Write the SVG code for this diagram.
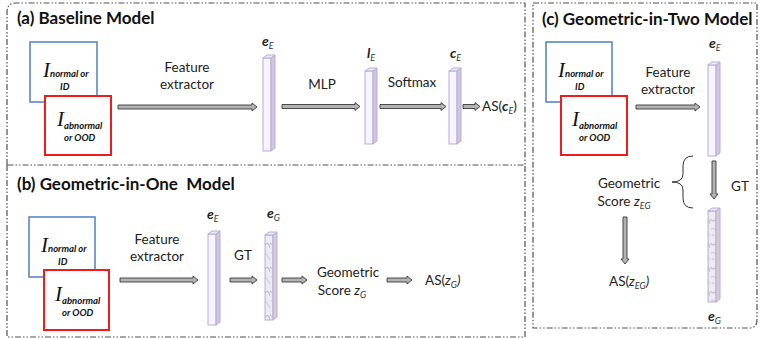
<svg xmlns="http://www.w3.org/2000/svg" width="763" height="338" viewBox="0 0 763 338">
<defs>
<style>
.frame{fill:none;stroke:#505050;stroke-width:1.2;stroke-dasharray:6 2 1.5 2 1.5 2}
.title{font-family:Lato,"Liberation Sans",sans-serif;font-weight:bold;font-size:17px;fill:#111}
.t{font-family:Lato,"Liberation Sans",sans-serif;font-size:13.5px;fill:#222}
.ti{font-style:italic}
.lab{font-family:Lato,"Liberation Sans",sans-serif;font-size:14px;font-weight:bold;font-style:italic;fill:#222}
.sub{font-family:Lato,"Liberation Sans",sans-serif;font-size:9px;font-style:italic;font-weight:normal;fill:#333}
.I{font-family:"Liberation Serif",serif;font-style:italic;font-size:21px;fill:#111}
.Isub{font-family:Lato,"Liberation Sans",sans-serif;font-style:italic;font-weight:bold;font-size:9.5px;fill:#111}
.blue{fill:#fff;stroke:#5a87c6;stroke-width:1.6}
.red{fill:#fff;stroke:#ee1c1c;stroke-width:2}
.arr{fill:#b3b3b3;stroke:#3a3a3a;stroke-width:0.9;stroke-linejoin:miter}
.front{fill:#f7f5fb;stroke:#b9acd8;stroke-width:1}
.side{fill:#cfc7e0;stroke:#b9acd8;stroke-width:1}
.top{fill:#ece8f4;stroke:#b9acd8;stroke-width:1}
.mfront{fill:url(#marble);stroke:#b9acd8;stroke-width:1}
.brace{fill:none;stroke:#333;stroke-width:1}
</style>
<pattern id="marble" patternUnits="userSpaceOnUse" width="10" height="24">
<rect width="10" height="24" fill="#ecebef"/>
<path d="M0 3 Q3 6 6 4 T10 8" stroke="#c3c1c8" stroke-width="1.2" fill="none"/>
<path d="M1 13 Q4 11 7 15 T9 20" stroke="#cfcdd4" stroke-width="1.2" fill="none"/>
<circle cx="3" cy="19" r="1.1" fill="#d3d1d8"/>
</pattern>
</defs>

<g id="frames">
<path class="frame" d="M7 165 V12 Q7 3 16 3 H525 V165 Z"/>
<path class="frame" d="M7 165 V337 H525 V165"/>
<path class="frame" d="M533 3 H757 V320 Q757 328 749 328 H533 Z"/>
</g>

<g id="titles">
<text class="title" x="17" y="24">(a) Baseline Model</text>
<text class="title" x="17" y="190" xml:space="preserve">(b) Geometric-in-One  Model</text>
<text class="title" x="542" y="25">(c) Geometric-in-Two Model</text>
</g>

<!-- Panel a -->
<g id="a-input">
<rect class="blue" x="30" y="42" width="67" height="60"/>
<text class="I" x="43" y="77">I<tspan class="Isub" dy="0">normal or</tspan></text>
<text class="Isub" x="60" y="90">ID</text>
<rect class="red" x="45" y="96" width="66" height="59"/>
<text class="I" x="57" y="126">I<tspan class="Isub" dy="3">abnormal</tspan></text>
<text class="Isub" x="64" y="141">or OOD</text>
</g>
<g id="a-eE">
<rect class="front" x="263" y="58" width="8" height="93"/>
<polygon class="side" points="271,58 275,55 275,148 271,151"/>
<polygon class="top" points="263,58 267,55 275,55 271,58"/>
<text class="lab" x="262" y="46">e<tspan class="sub" dy="3">E</tspan></text>
</g>
<g id="a-lE">
<rect class="front" x="365" y="71" width="8" height="73"/>
<polygon class="side" points="373,71 377,68 377,141 373,144"/>
<polygon class="top" points="365,71 369,68 377,68 373,71"/>
<text class="lab" x="367" y="58">l<tspan class="sub" dy="3">E</tspan></text>
</g>
<g id="a-cE">
<rect class="front" x="449" y="71" width="8" height="73"/>
<polygon class="side" points="457,71 461,68 461,141 457,144"/>
<polygon class="top" points="449,71 453,68 461,68 457,71"/>
<text class="lab" x="450" y="58">c<tspan class="sub" dy="3">E</tspan></text>
</g>
<g id="a-out">
<text class="t" x="482" y="111">AS(<tspan class="lab" font-size="13">c</tspan><tspan class="sub" dy="3">E</tspan><tspan dy="-3">)</tspan></text>
</g>

<!-- Panel b -->
<g id="b-input">
<rect class="blue" x="29" y="217" width="66" height="60"/>
<text class="I" x="41" y="252">I<tspan class="Isub" dy="0">normal or</tspan></text>
<text class="Isub" x="58" y="265">ID</text>
<rect class="red" x="44" y="270" width="65" height="60"/>
<text class="I" x="55" y="301">I<tspan class="Isub" dy="3">abnormal</tspan></text>
<text class="Isub" x="62" y="316">or OOD</text>
</g>
<g id="b-eE">
<rect class="front" x="208" y="234" width="8" height="91"/>
<polygon class="side" points="216,234 220,231 220,322 216,325"/>
<polygon class="top" points="208,234 212,231 220,231 216,234"/>
<text class="lab" x="207" y="219">e<tspan class="sub" dy="3">E</tspan></text>
</g>
<g id="b-eG">
<rect class="mfront" x="265" y="235" width="8" height="85"/>
<polygon class="side" points="273,235 277,232 277,317 273,320" style="fill:#d2cddb"/>
<polygon class="top" points="265,235 269,232 277,232 273,235"/>
<text class="lab" x="267" y="218">e<tspan class="sub" dy="3">G</tspan></text>
</g>
<g id="b-score">
<text class="t" x="348" y="277" text-anchor="middle">Geometric</text>
<text class="t" x="342" y="295" text-anchor="middle">Score <tspan class="ti">z</tspan><tspan class="sub" dy="3">G</tspan></text>
</g>
<g id="b-out">
<text class="t" x="425" y="285">AS(<tspan class="ti">z</tspan><tspan class="sub" dy="3">G</tspan><tspan class="ti" dy="-3">)</tspan></text>
</g>

<!-- Panel c -->
<g id="c-input">
<rect class="blue" x="546" y="42" width="66" height="60"/>
<text class="I" x="558" y="77">I<tspan class="Isub" dy="0">normal or</tspan></text>
<text class="Isub" x="575" y="90">ID</text>
<rect class="red" x="561" y="96" width="66" height="59"/>
<text class="I" x="572" y="126">I<tspan class="Isub" dy="3">abnormal</tspan></text>
<text class="Isub" x="579" y="141">or OOD</text>
</g>
<g id="c-eE">
<rect class="front" x="708" y="65" width="8" height="91"/>
<polygon class="side" points="716,65 720,62 720,153 716,156"/>
<polygon class="top" points="708,65 712,62 720,62 716,65"/>
<text class="lab" x="709" y="48">e<tspan class="sub" dy="3">E</tspan></text>
</g>
<g id="c-eG">
<rect class="mfront" x="708" y="211" width="8" height="91"/>
<polygon class="side" points="716,211 720,208 720,299 716,302" style="fill:#d2cddb"/>
<polygon class="top" points="708,211 712,208 720,208 716,211"/>
<text class="lab" x="708" y="321">e<tspan class="sub" dy="3">G</tspan></text>
</g>
<g id="c-score">
<text class="t" x="629" y="188" text-anchor="middle">Geometric</text>
<text class="t" x="624" y="206" text-anchor="middle">Score <tspan class="ti">z</tspan><tspan class="sub" dy="3">EG</tspan></text>
</g>
<g id="c-out">
<text class="t" x="609" y="286">AS(<tspan class="ti">z</tspan><tspan class="sub" dy="3">EG</tspan><tspan class="ti" dy="-3">)</tspan></text>
</g>

<g id="connectors">
<path class="arr" d="M118 105 H252 V103 L257 107 L252 111 V109 H118 Z"/>
<path class="arr" d="M282 104.5 H355 V102.5 L360 106.5 L355 110.5 V108.5 H282 Z"/>
<path class="arr" d="M380 104.5 H441 V102.5 L446 106.5 L441 110.5 V108.5 H380 Z"/>
<path class="arr" d="M463 104.5 H475 V102.5 L480 106.5 L475 110.5 V108.5 H463 Z"/>
<path class="arr" d="M120 278 H193 V276 L198 280 L193 284 V282 H120 Z"/>
<path class="arr" d="M230 278 H252 V276 L257 280 L252 284 V282 H230 Z"/>
<path class="arr" d="M282 278 H302 V276 L307 280 L302 284 V282 H282 Z"/>
<path class="arr" d="M387 278 H407 V276 L412 280 L407 284 V282 H387 Z"/>
<path class="arr" d="M636 105 H695 V103 L700 107 L695 111 V109 H636 Z"/>
<path class="arr" d="M712 161 V194 H710 L714 199 L718 194 H716 V161 Z"/>
<path class="arr" d="M623 217 V259 H621 L625 264 L629 259 H627 V217 Z"/>
<path class="brace" d="M693 156 Q683 156 683 166 V174 Q683 182 672 182 Q683 182 683 190 V198 Q683 208 693 208"/>
</g>

<g id="labels">
<text class="t" x="187" y="72" text-anchor="middle">Feature</text>
<text class="t" x="187" y="89" text-anchor="middle">extractor</text>
<text class="t" x="322" y="89" text-anchor="middle">MLP</text>
<text class="t" x="412" y="87" text-anchor="middle">Softmax</text>
<text class="t" x="157" y="244" text-anchor="middle">Feature</text>
<text class="t" x="157" y="261" text-anchor="middle">extractor</text>
<text class="t" x="243" y="260" text-anchor="middle">GT</text>
<text class="t" x="668" y="77" text-anchor="middle">Feature</text>
<text class="t" x="668" y="94" text-anchor="middle">extractor</text>
<text class="t" x="740" y="191" text-anchor="middle">GT</text>
</g>
</svg>
